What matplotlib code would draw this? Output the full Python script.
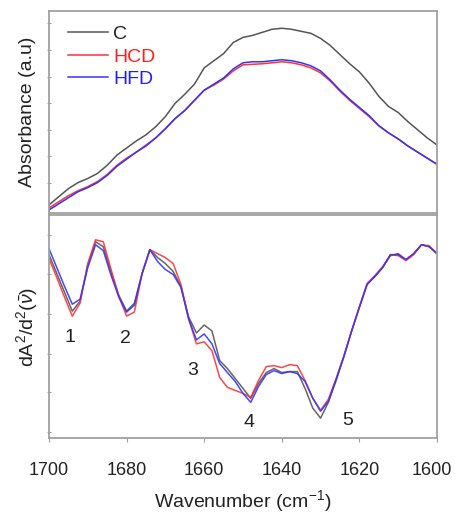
import numpy as np
import matplotlib
matplotlib.use("Agg")
import matplotlib.pyplot as plt
import matplotlib.transforms as mtransforms

plt.rcParams['font.family'] = ['Liberation Sans', 'DejaVu Sans']
plt.rcParams['mathtext.fontset'] = 'custom'
plt.rcParams['mathtext.rm'] = 'Liberation Sans'
plt.rcParams['mathtext.it'] = 'Liberation Sans:italic'

# absorbance spectra (upper panel), 2.5 cm-1 steps
wn_abs = np.arange(1700, 1599, -2.5)
abs_C = [0.08, 0.16, 0.24, 0.30, 0.34, 0.39, 0.47, 0.57, 0.64, 0.71, 0.77,
         0.85, 0.95, 1.08, 1.17, 1.27, 1.43, 1.50, 1.57, 1.68, 1.73, 1.75,
         1.78, 1.81, 1.82, 1.81, 1.79, 1.77, 1.72, 1.65, 1.56, 1.47, 1.39,
         1.28, 1.15, 1.05, 0.99, 0.90, 0.82, 0.74, 0.67]
abs_HCD = [0.05, 0.11, 0.17, 0.22, 0.26, 0.31, 0.38, 0.47, 0.54, 0.60, 0.67,
           0.74, 0.83, 0.93, 1.01, 1.11, 1.21, 1.26, 1.32, 1.40, 1.46, 1.465,
           1.47, 1.48, 1.49, 1.48, 1.46, 1.43, 1.38, 1.30, 1.20, 1.11, 1.03,
           0.95, 0.86, 0.79, 0.73, 0.66, 0.60, 0.54, 0.48]
abs_HFD = [0.03, 0.09, 0.15, 0.21, 0.25, 0.30, 0.37, 0.46, 0.53, 0.60, 0.66,
           0.74, 0.83, 0.93, 1.01, 1.11, 1.21, 1.27, 1.33, 1.42, 1.48, 1.49,
           1.49, 1.50, 1.51, 1.50, 1.48, 1.45, 1.40, 1.31, 1.21, 1.12, 1.04,
           0.96, 0.86, 0.79, 0.73, 0.66, 0.60, 0.54, 0.48]

# second derivative (lower panel), 2 cm-1 steps
wn_d2 = np.arange(1700, 1599, -2)
d2_C = [1.85, 1.66, 1.47, 1.28, 1.38, 1.75, 1.98, 1.93, 1.67, 1.44, 1.28,
        1.36, 1.66, 1.90, 1.82, 1.76, 1.68, 1.53, 1.22, 1.06, 1.14, 1.08,
        0.78, 0.70, 0.60, 0.50, 0.40, 0.55, 0.66, 0.70, 0.66, 0.67, 0.67,
        0.50, 0.30, 0.20, 0.36, 0.58, 0.82, 1.08, 1.32, 1.55, 1.63, 1.72,
        1.84, 1.86, 1.80, 1.86, 1.95, 1.93, 1.86]
d2_HCD = [1.81, 1.62, 1.42, 1.23, 1.36, 1.76, 2.00, 1.98, 1.70, 1.43, 1.23,
          1.27, 1.66, 1.90, 1.86, 1.82, 1.76, 1.55, 1.20, 0.95, 0.97, 0.88,
          0.61, 0.51, 0.48, 0.45, 0.41, 0.58, 0.72, 0.73, 0.71, 0.74, 0.73,
          0.58, 0.40, 0.28, 0.39, 0.60, 0.83, 1.08, 1.32, 1.56, 1.64, 1.73,
          1.85, 1.84, 1.79, 1.85, 1.95, 1.94, 1.86]
d2_HFD = [1.91, 1.72, 1.53, 1.35, 1.40, 1.72, 1.95, 1.89, 1.64, 1.42, 1.27,
          1.34, 1.66, 1.90, 1.78, 1.70, 1.65, 1.52, 1.20, 0.99, 1.05, 0.95,
          0.75, 0.66, 0.57, 0.45, 0.36, 0.52, 0.64, 0.68, 0.65, 0.67, 0.65,
          0.57, 0.40, 0.27, 0.37, 0.59, 0.82, 1.08, 1.32, 1.55, 1.63, 1.72,
          1.85, 1.85, 1.80, 1.86, 1.95, 1.93, 1.86]

# band labels
band_labels = ["1", "2", "3", "4", "5"]
band_wn = [1694.6, 1680.2, 1662.9, 1648.5, 1622.9]
band_y = [1.01, 1.00, 0.68, 0.16, 0.18]

names = ["C", "HCD", "HFD"]
colors = ["#555555", "#ff3333", "#3333ff"]

fig = plt.figure(figsize=(4.55, 5.14), dpi=100)
ax1 = fig.add_axes([0.1077, 0.5856, 0.8527, 0.393])
ax2 = fig.add_axes([0.1077, 0.1479, 0.8527, 0.4338])

for ys, name, c in zip([abs_C, abs_HCD, abs_HFD], names, colors):
    ax1.plot(wn_abs, ys, color=c, lw=1.1, label=name)
for ys, c in zip([d2_C, d2_HCD, d2_HFD], colors):
    ax2.plot(wn_d2, ys, color=c, lw=1.1, alpha=0.9)

for ax in (ax1, ax2):
    ax.set_xlim(1700, 1600)
    for sp in ax.spines.values():
        sp.set_color("#a0a0a0")
        sp.set_linewidth(1.3)
    ax.tick_params(axis="y", direction="inout", length=3, color="#a0a0a0",
                   labelleft=False)

ax1.set_ylim(0, 1.99)
ax1.set_yticks([0.30, 0.56, 0.82, 1.08, 1.34, 1.61, 1.87])
ax1.set_xticks([])
ax1.set_ylabel("Absorbance (a.u)", fontsize=14, color="#222222", labelpad=8)

ax2.set_ylim(0, 2.25)
ax2.set_yticks([0.06, 0.46, 0.85, 1.25, 1.65, 2.05])
ax2.set_xticks([1700, 1680, 1660, 1640, 1620, 1600])
ax2.tick_params(axis="x", direction="out", length=3, color="#a0a0a0",
                labelsize=13, labelcolor="#222222", pad=14)
ax2.set_xlabel("Wavenumber (cm$^{-1}$)", fontsize=14, color="#222222",
               labelpad=7)
ax2.set_ylabel(r"dA$^2$/d$^2$($\bar{\nu}$)", fontsize=14, color="#222222",
               labelpad=5)

# nudge the last tick label left so it stays inside the figure
last = ax2.get_xticklabels()[-1]
last.set_transform(last.get_transform() +
                   mtransforms.ScaledTranslation(-4 / 72, 0, fig.dpi_scale_trans))

for lab, x, y in zip(band_labels, band_wn, band_y):
    ax2.text(x, y, lab, fontsize=14, ha="center", va="center", color="#222222")

leg = ax1.legend(loc="upper left", bbox_to_anchor=(0.004, 1.015), frameon=False,
                 fontsize=14, handlelength=2.05, handletextpad=0.26,
                 labelspacing=0.25, labelcolor=["#222222", "#ff2020", "#2020ff"])

fig.savefig("out.png", dpi=100)
